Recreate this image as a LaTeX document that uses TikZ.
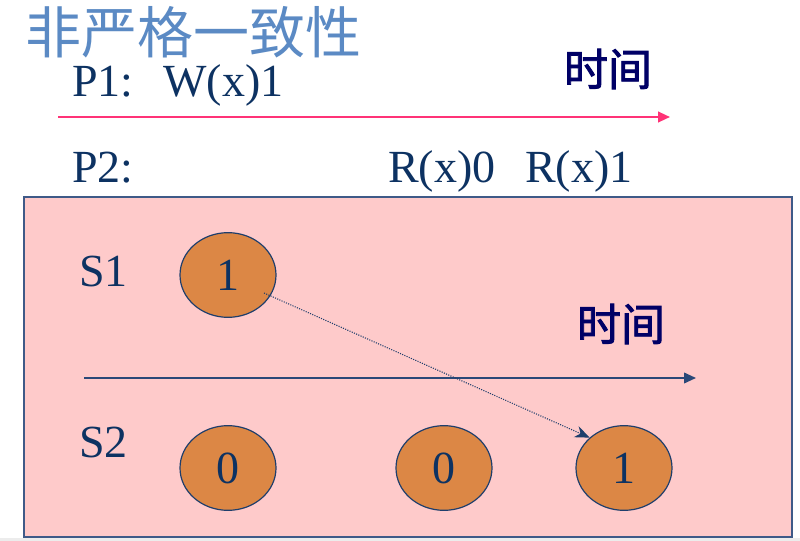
\documentclass[tikz,border=0pt]{standalone}
\usepackage{fontspec}
\setmainfont{Liberation Serif}
\newfontfamily\cjk{Noto Sans CJK SC}
\newfontfamily\cjkb[FakeBold=2]{Noto Sans CJK SC}
\usetikzlibrary{arrows.meta,shapes.geometric}
\definecolor{titleblue}{HTML}{5B8AC4}
\definecolor{navy}{HTML}{0D3262}
\definecolor{timenavy}{HTML}{000066}
\definecolor{pinkline}{HTML}{FF3377}
\definecolor{boxfill}{HTML}{FECACA}
\definecolor{boxedge}{HTML}{3F5A88}
\definecolor{arrowedge}{HTML}{2A4878}
\definecolor{orangefill}{HTML}{DC8745}
\definecolor{ovaledge}{HTML}{1E3E6C}
\tikzset{
  lbl/.style={text=navy, font=\fontsize{34.5}{40}\selectfont, inner sep=0pt, anchor=base west},
  timelbl/.style={text=timenavy, font=\cjkb\fontsize{33}{38}\selectfont, inner sep=0pt},
  oval/.style={ellipse, draw=ovaledge, line width=0.9pt, fill=orangefill, minimum width=72pt, minimum height=63.5pt, inner sep=0pt, text=navy, font=\fontsize{34.5}{40}\selectfont},
}
\begin{document}
\begin{tikzpicture}[x=0.75pt,y=-0.75pt]
\useasboundingbox (0,0) rectangle (800,541);
\fill[white] (0,0) rectangle (800,541);
\fill[gray!15] (0,538) rectangle (800,541);
% title
\node[text=titleblue, font=\cjk\fontsize{42}{46}\selectfont, inner sep=0pt, anchor=west] (title) at (25,32) {非严格一致性};
% P1 line
\node[lbl] (p1) at (72,97) {P1:};
\node[lbl] (w1) at (163,97) {W(x)1};
\node[timelbl] (time1) at (608,69) {时间};
\coordinate (a1s) at (58,117);
\coordinate (a1e) at (670,117);
\draw[pinkline, line width=1.6pt, -{Triangle[length=9pt,width=8pt]}] (a1s) -- (a1e);
% P2 line
\node[lbl] (p2) at (72,183) {P2:};
\node[lbl] (r0) at (388,183) {R(x)0};
\node[lbl] (r1) at (525,183) {R(x)1};
% box
\draw[boxedge, fill=boxfill, line width=1.2pt] (24,197) rectangle (792,537);
\node[lbl] (s1) at (79,287) {S1};
\node[lbl] (s2) at (79,458) {S2};
\node[timelbl] (time2) at (621,324) {时间};
\coordinate (a2s) at (84,378);
\coordinate (a2e) at (696,378);
\draw[arrowedge, line width=1.3pt, -{Triangle[length=9pt,width=8pt]}] (a2s) -- (a2e);
\node[oval] (e1) at (228,275) {1};
\node[oval] (e2) at (228,468) {0};
\node[oval] (e3) at (444,468) {0};
\node[oval] (e4) at (624,468) {1};
\coordinate (ds) at (264,293);
\draw[ovaledge, line width=0.8pt, densely dotted, -{Stealth[length=11pt,width=9pt]}] (ds) -- (e4.north west);
\end{tikzpicture}
\end{document}
